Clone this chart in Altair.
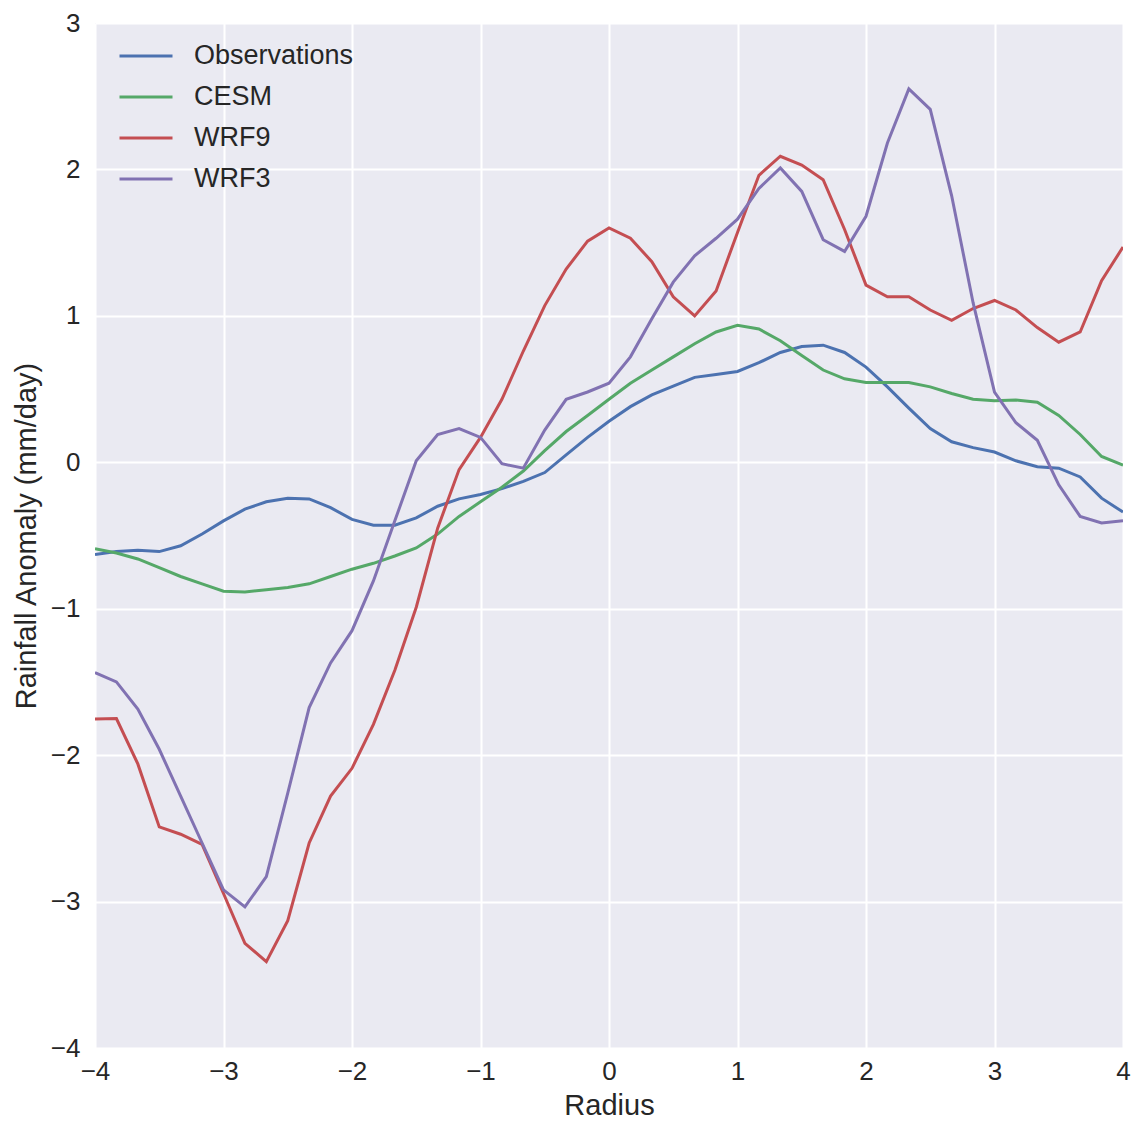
import altair as alt
import pandas as pd

radius = [-4 + k / 6 for k in range(49)]

observations = [-0.63, -0.61, -0.60, -0.61, -0.57, -0.49, -0.40, -0.32, -0.27, -0.245, -0.25, -0.31,
                -0.39, -0.43, -0.43, -0.38, -0.30, -0.25, -0.22, -0.18, -0.13, -0.07, 0.05, 0.17,
                0.28, 0.38, 0.46, 0.52, 0.58, 0.60, 0.62, 0.68, 0.75, 0.79, 0.80, 0.75, 0.65,
                0.515, 0.37, 0.23, 0.14, 0.10, 0.07, 0.01, -0.03, -0.04, -0.10, -0.245, -0.34]

cesm = [-0.59, -0.62, -0.66, -0.72, -0.78, -0.83, -0.88, -0.885, -0.87, -0.855, -0.83, -0.78,
        -0.73, -0.69, -0.64, -0.585, -0.49, -0.37, -0.27, -0.17, -0.06, 0.08, 0.21, 0.32,
        0.43, 0.54, 0.63, 0.72, 0.81, 0.89, 0.935, 0.91, 0.83, 0.73, 0.63, 0.57, 0.545,
        0.545, 0.545, 0.515, 0.47, 0.43, 0.42, 0.425, 0.41, 0.32, 0.19, 0.04, -0.02]

wrf9 = [-1.754, -1.75, -2.06, -2.49, -2.54, -2.61, -2.945, -3.285, -3.41, -3.13, -2.60, -2.28,
        -2.09, -1.79, -1.42, -0.99, -0.45, -0.05, 0.17, 0.43, 0.76, 1.07, 1.32, 1.51,
        1.60, 1.53, 1.37, 1.13, 1.00, 1.17, 1.57, 1.96, 2.09, 2.03, 1.93, 1.59, 1.21,
        1.13, 1.13, 1.04, 0.97, 1.05, 1.105, 1.04, 0.92, 0.82, 0.89, 1.24, 1.47]

wrf3 = [-1.436, -1.50, -1.686, -1.96, -2.28, -2.60, -2.92, -3.036, -2.83, -2.26, -1.675, -1.37,
        -1.15, -0.81, -0.40, 0.01, 0.19, 0.23, 0.17, -0.01, -0.04, 0.22, 0.43, 0.48,
        0.54, 0.72, 0.98, 1.23, 1.41, 1.53, 1.66, 1.87, 2.01, 1.85, 1.52, 1.44, 1.68,
        2.18, 2.55, 2.41, 1.82, 1.09, 0.48, 0.27, 0.15, -0.154, -0.37, -0.415, -0.40]

series_names = ["Observations", "CESM", "WRF9", "WRF3"]
series_colors = ["#4C72B0", "#55A868", "#C44E52", "#8172B2"]
x_ticks = [-4, -3, -2, -1, 0, 1, 2, 3, 4]
y_ticks = [-4, -3, -2, -1, 0, 1, 2, 3]

rows = []
for name, vals in zip(series_names, [observations, cesm, wrf9, wrf3]):
    for r, v in zip(radius, vals):
        rows.append({"Radius": r, "Value": v, "Series": name})
df = pd.DataFrame(rows)

font = "Liberation Sans"

chart = alt.Chart(df).mark_line(strokeWidth=3, clip=True).encode(
    x=alt.X("Radius:Q", scale=alt.Scale(domain=[-4, 4], nice=False),
            axis=alt.Axis(values=x_ticks, title="Radius", format="d", labelFlush=False)),
    y=alt.Y("Value:Q", scale=alt.Scale(domain=[-4, 3], nice=False),
            axis=alt.Axis(values=y_ticks, title="Rainfall Anomaly (mm/day)", format="d",
                          labelFlush=False)),
    color=alt.Color("Series:N", sort=series_names,
                    scale=alt.Scale(domain=series_names, range=series_colors),
                    legend=alt.Legend(title=None, orient="none", legendX=23, legendY=5,
                                      symbolType="stroke", symbolSize=2809, symbolStrokeWidth=3,
                                      labelFontSize=27, labelFont=font, labelColor="#262626",
                                      labelOffset=20, rowPadding=0, padding=0)),
    order=alt.Order("Radius:Q"),
    detail="Series:N",
).properties(
    width=1028, height=1025,
    autosize=alt.AutoSizeParams(type="none"),
    padding={"left": 87, "top": 15, "right": 11, "bottom": 76},
).configure_view(
    fill="#EAEAF2", stroke=None
).configure_axis(
    grid=True, gridColor="white", gridWidth=2, domain=False, ticks=False,
    labelFont=font, labelFontSize=26, labelColor="#262626",
    titleFont=font, titleFontSize=29, titleColor="#262626", titleFontWeight="normal",
).configure_axisY(
    titlePadding=9, labelPadding=15
).configure_axisX(
    titlePadding=7, labelPadding=10
)

chart.save("out.html", embed_options={"renderer": "svg", "actions": False})
